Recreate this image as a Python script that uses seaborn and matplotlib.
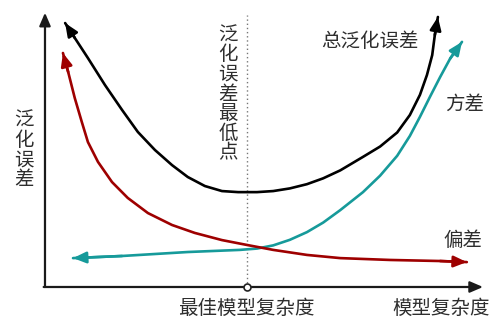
import matplotlib
matplotlib.use("Agg")
import matplotlib.pyplot as plt
import seaborn as sns
import pandas as pd

sns.set_theme(style="white")
plt.rcParams['font.family'] = ['Noto Sans CJK SC', 'DejaVu Sans']

# model complexity (x) vs error (y), arbitrary units
total_x = [0.46, 0.68, 0.98, 1.37, 1.76, 2.12, 2.51, 2.90, 3.26, 3.65, 4.04, 4.41, 4.84,
           5.21, 5.59, 5.98, 6.35, 6.74, 7.26, 7.65, 8.04, 8.33, 8.56, 8.72, 8.84, 8.90, 8.97]
total_y = [9.96, 9.40, 8.64, 7.62, 6.68, 5.85, 5.17, 4.60, 4.15, 3.81, 3.62, 3.58, 3.58,
           3.62, 3.72, 3.88, 4.10, 4.40, 4.91, 5.30, 5.83, 6.49, 7.25, 8.00, 8.75, 9.51, 10.19]

var_x = [0.64, 1.76, 3.26, 4.45, 4.84, 5.21, 5.59, 5.98, 6.35, 6.74, 7.26, 7.65, 8.04,
         8.33, 8.56, 8.79, 9.02, 9.25, 9.52]
var_y = [1.09, 1.17, 1.32, 1.40, 1.45, 1.57, 1.78, 2.07, 2.43, 2.90, 3.58, 4.20, 4.95,
         5.70, 6.42, 7.18, 7.92, 8.62, 9.25]

bias_x = [0.41, 0.53, 0.68, 0.84, 0.98, 1.21, 1.53, 1.89, 2.35, 2.90, 3.42, 4.04, 4.63,
          5.21, 5.98, 6.74, 7.88, 9.02, 9.63]
bias_y = [8.83, 8.11, 7.13, 6.23, 5.47, 4.72, 3.96, 3.36, 2.79, 2.34, 2.04, 1.77, 1.58,
          1.40, 1.21, 1.09, 1.02, 0.98, 0.94]

best_x = 4.61

curve_labels = ["总泛化误差", "方差", "偏差"]
axis_labels = ["泛化误差", "模型复杂度", "最佳模型复杂度", "泛化误差最低点"]

colors = {"总泛化误差": "#000000", "方差": "#169a9a", "偏差": "#9e0000"}

df = pd.concat([
    pd.DataFrame({"x": total_x, "y": total_y, "curve": "总泛化误差"}),
    pd.DataFrame({"x": var_x, "y": var_y, "curve": "方差"}),
    pd.DataFrame({"x": bias_x, "y": bias_y, "curve": "偏差"}),
])

fig = plt.figure(figsize=(5.04, 3.26), dpi=100)
ax = fig.add_axes([0, 0, 1, 1])
ax.set_xlim(-1.027, 10.479)
ax.set_ylim(-1.472, 10.83)
ax.axis("off")

for name in curve_labels:
    d = df[df.curve == name]
    sns.lineplot(data=d, x="x", y="y", sort=False, estimator=None, color=colors[name],
                 lw=1.9, ax=ax, legend=False)

def arrow(p_from, p_to, color, lw=1.9):
    ax.annotate("", xy=p_to, xytext=p_from,
                arrowprops=dict(arrowstyle="-|>,head_length=0.65,head_width=0.28",
                                color=color, lw=lw, shrinkA=0, shrinkB=0,
                                mutation_scale=12))

# arrowheads on curve ends
arrow((total_x[1], total_y[1]), (total_x[0], total_y[0]), colors["总泛化误差"])
arrow((total_x[-2], total_y[-2]), (total_x[-1], total_y[-1]), colors["总泛化误差"])
arrow((var_x[1], var_y[1]), (var_x[0], var_y[0]), colors["方差"])
arrow((var_x[-2], var_y[-2]), (var_x[-1], var_y[-1]), colors["方差"])
arrow((bias_x[1], bias_y[1]), (bias_x[0], bias_y[0]), colors["偏差"])
arrow((bias_x[-2], bias_y[-2]), (bias_x[-1], bias_y[-1]), colors["偏差"])

# axes with arrows
ax.annotate("", xy=(0, 10.35), xytext=(0, 0),
            arrowprops=dict(arrowstyle="-|>,head_length=0.65,head_width=0.28", color="#1a1a1a",
                            lw=1.6, shrinkA=0, shrinkB=0, mutation_scale=12))
ax.annotate("", xy=(10.0, 0), xytext=(-0.03, 0),
            arrowprops=dict(arrowstyle="-|>,head_length=0.65,head_width=0.28", color="#1a1a1a",
                            lw=1.6, shrinkA=0, shrinkB=0, mutation_scale=12))

# dotted line at the minimum
ax.plot([best_x, best_x], [0, 10.26], ls=(0, (1, 2)), color="#777777", lw=1.0, zorder=1)
ax.plot([best_x], [0], marker="o", ms=5, mfc="white", mec="#222222", mew=1.2, zorder=5)

tc = "#2e2e2e"
fs = 14
ax.text(-0.48, 5.17, "\n".join(axis_labels[0]), ha="center", va="center", fontsize=fs,
        color=tc, linespacing=0.92)
ax.text(9.05, -0.82, axis_labels[1], ha="center", va="center", fontsize=fs, color=tc)
ax.text(best_x - 0.02, -0.82, axis_labels[2], ha="center", va="center", fontsize=fs, color=tc)
ax.text(4.18, 7.28, "\n".join(axis_labels[3]), ha="center", va="center", fontsize=fs,
        color=tc, linespacing=0.92)
ax.text(7.42, 9.28, curve_labels[0], ha="center", va="center", fontsize=fs, color=tc)
ax.text(9.57, 6.91, curve_labels[1], ha="center", va="center", fontsize=fs, color=tc)
ax.text(9.55, 1.77, curve_labels[2], ha="center", va="center", fontsize=fs, color=tc)

fig.savefig("out.png", dpi=100, facecolor="white")
